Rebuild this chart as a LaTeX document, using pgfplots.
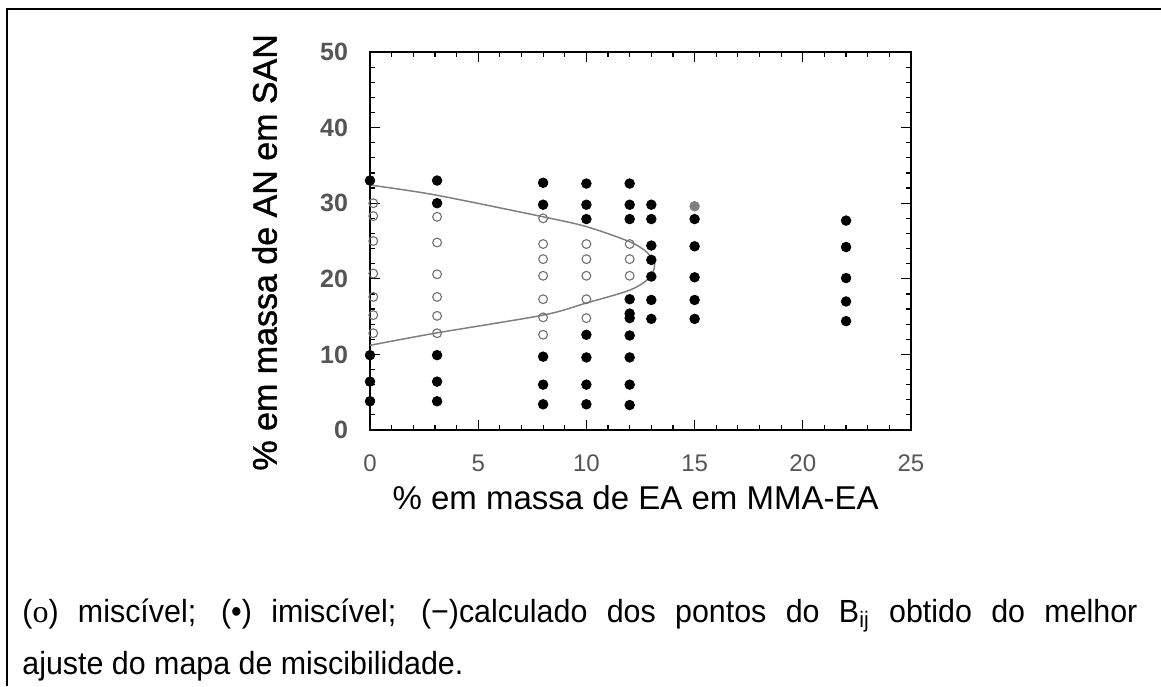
\documentclass[border=0pt]{standalone}
\usepackage{fontspec}
\setmainfont{Liberation Sans}
\newfontfamily\serif{Liberation Serif}
\newfontfamily\capfont[FakeStretch=0.95]{Liberation Sans}
\newfontfamily\ylabfont[FakeBold=1.2]{Liberation Sans}
\usepackage{pgfplots}
\pgfplotsset{compat=1.18}
\definecolor{tickgray}{HTML}{555555}
\definecolor{curvegray}{HTML}{808080}
\definecolor{opengray}{HTML}{707070}
\begin{document}
\begin{tikzpicture}[x=1pt,y=1pt]
\path[use as bounding box] (0,0) rectangle (580.5,343);
\draw[line width=1.15pt] (3.5,0) -- (3.5,338.5) -- (581,338.5);
\begin{axis}[
  at={(185pt,128pt)}, anchor=south west,
  scale only axis, width=270.5pt, height=189pt,
  xmin=0, xmax=25, ymin=0, ymax=50,
  xtick={0,5,...,25}, ytick={0,10,...,50},
  minor x tick num=4, minor y tick num=4,
  tick align=inside, major tick length=5pt, minor tick length=2.5pt,
  axis line style={line width=1pt},
  every tick/.style={black, line width=0.6pt},
  /pgf/number format/assume math mode=true,
  xticklabel style={font=\fontsize{12}{12}\selectfont, text=tickgray, yshift=-9pt},
  yticklabel style={font=\fontsize{12.5}{12.5}\selectfont\bfseries, text=tickgray, xshift=-7.5pt},
  xlabel={\% em massa de EA em MMA-EA},
  ylabel={\% em massa de AN em SAN},
  xlabel style={font=\fontsize{16.5}{16.5}\selectfont, at={(axis description cs:0.491,-0.21)}, anchor=base},
  ylabel style={font=\ylabfont\fontsize{17}{17}\selectfont, at={(axis description cs:-0.195,0.47)}, anchor=center},
  clip=false,
]
% calculated curve
\addplot[curvegray, line width=0.75pt, smooth, tension=0.5] coordinates {
 (0,32.4) (3,31.1) (8,28.2) (10,26.9) (12,24.9) (12.8,23.5) (13.15,21.9)
 (12.9,20.1) (12,18.5) (10,16.8) (8,15.2) (3,12.8) (0,11.2)
};
% miscible (open)
\addplot[only marks, mark=o, mark size=2.2pt, opengray, mark options={line width=0.55pt}] coordinates {
 (0.15,30) (0.15,28.3) (0.15,25) (0.15,20.7) (0.15,17.6) (0.15,15.2) (0.15,12.8)
 (3.1,28.2) (3.1,24.8) (3.1,20.6) (3.1,17.6) (3.1,15.1) (3.1,12.8)
 (8.0,28.0) (8.0,24.6) (8.0,22.6) (8.0,20.4) (8.0,17.3) (8.0,14.9) (8.0,12.6)
 (10.0,24.6) (10.0,22.6) (10.0,20.4) (10.0,17.3) (10.0,14.8)
 (12.0,24.6) (12.0,22.6) (12.0,20.4)
};
% immiscible (filled)
\addplot[only marks, mark=*, mark size=2.4pt, black] coordinates {
 (0,33) (0,9.9) (0,6.4) (0,3.8)
 (3.1,33) (3.1,30) (3.1,9.9) (3.1,6.4) (3.1,3.8)
 (8.0,32.7) (8.0,29.8) (8.0,9.7) (8.0,6.0) (8.0,3.4)
 (10.0,32.6) (10.0,29.8) (10.0,27.9) (10.0,12.6) (10.0,9.6) (10.0,6.0) (10.0,3.4)
 (12.0,32.6) (12.0,29.8) (12.0,27.9) (12.0,17.3) (12.0,15.4) (12.0,14.8) (12.0,12.5) (12.0,9.6) (12.0,6.0) (12.0,3.3)
 (13.0,29.8) (13.0,27.9) (13.0,24.4) (13.0,22.5) (13.0,20.3) (13.0,17.2) (13.0,14.7)
 (15.0,27.9) (15.0,24.3) (15.0,20.2) (15.0,17.2) (15.0,14.7)
 (22.0,27.7) (22.0,24.2) (22.0,20.1) (22.0,17.0) (22.0,14.4)
};
\addplot[only marks, mark=*, mark size=2.4pt, gray] coordinates {(15.0,29.6)};
\end{axis}
\node[anchor=base west, inner sep=0pt, font=\capfont\fontsize{16}{16}\selectfont] at (11,32)
  {\makebox[557.5pt][s]{({\serif o}) miscível; (•) imiscível; (−)calculado dos pontos do B\textsubscript{ij} obtido do melhor}};
\node[anchor=base west, inner sep=0pt, font=\capfont\fontsize{16}{16}\selectfont] at (11,6)
  {ajuste do mapa de miscibilidade.};
\end{tikzpicture}
\end{document}
